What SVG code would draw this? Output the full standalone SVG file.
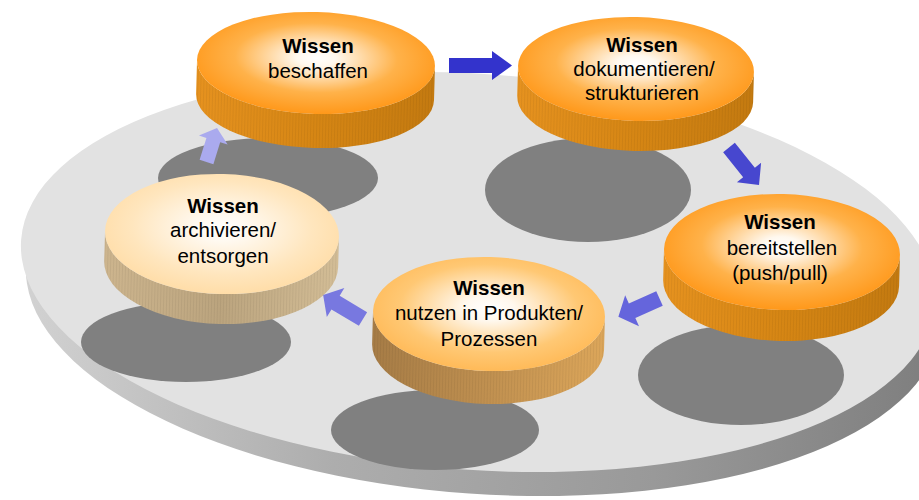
<svg xmlns="http://www.w3.org/2000/svg" width="919" height="500" viewBox="0 0 919 500">
  <defs>
    <!-- plate rim shading -->
    <linearGradient id="rimGrad" x1="0" y1="0" x2="1" y2="0">
      <stop offset="0" stop-color="#D2D2D2"/>
      <stop offset="0.35" stop-color="#ADADAD"/>
      <stop offset="0.7" stop-color="#999999"/>
      <stop offset="1" stop-color="#7E7E7E"/>
    </linearGradient>
    <!-- disc faces -->
    <radialGradient id="faceOrange" cx="0.5" cy="0.45" r="0.55">
      <stop offset="0" stop-color="#FFFFFF"/>
      <stop offset="0.15" stop-color="#FFF8EE"/>
      <stop offset="0.62" stop-color="#FFB24A"/>
      <stop offset="1" stop-color="#FF981A"/>
    </radialGradient>
    <radialGradient id="faceLight" cx="0.5" cy="0.45" r="0.55">
      <stop offset="0" stop-color="#FFFFFF"/>
      <stop offset="0.2" stop-color="#FFF8EE"/>
      <stop offset="0.7" stop-color="#FFC874"/>
      <stop offset="1" stop-color="#FFBA58"/>
    </radialGradient>
    <radialGradient id="facePale" cx="0.5" cy="0.45" r="0.55">
      <stop offset="0" stop-color="#FFFFFF"/>
      <stop offset="0.2" stop-color="#FFF9F0"/>
      <stop offset="0.7" stop-color="#FFE6BE"/>
      <stop offset="1" stop-color="#FFDDA8"/>
    </radialGradient>
    <!-- disc sides -->
    <linearGradient id="sideOrange" x1="0" y1="0" x2="1" y2="0">
      <stop offset="0" stop-color="#E6921F"/>
      <stop offset="0.5" stop-color="#D68614"/>
      <stop offset="1" stop-color="#C47A10"/>
    </linearGradient>
    <linearGradient id="sideLight" x1="0" y1="0" x2="1" y2="0">
      <stop offset="0" stop-color="#A67C46"/>
      <stop offset="0.5" stop-color="#C09050"/>
      <stop offset="1" stop-color="#DCA65A"/>
    </linearGradient>
    <linearGradient id="sidePale" x1="0" y1="0" x2="1" y2="0">
      <stop offset="0" stop-color="#CDB58E"/>
      <stop offset="0.5" stop-color="#BBA47E"/>
      <stop offset="1" stop-color="#D3BD96"/>
    </linearGradient>
    <!-- fine vertical grain on the disc sides -->
    <pattern id="grain" width="3" height="6" patternUnits="userSpaceOnUse">
      <rect x="0" y="0" width="1" height="6" fill="#000" fill-opacity="0.05"/>
    </pattern>
    <style>
      .shadow { fill: #808080; }
      .grain { fill: url(#grain); }
      .label { font-family: "Liberation Sans", Arial, sans-serif; font-size: 20.5px; fill: #000; text-anchor: middle; }
      .title { font-weight: bold; }
      .arrow { stroke: none; }
    </style>
  </defs>

  <!-- base plate: rim underneath, top surface above -->
  <g id="plate">
    <ellipse cx="483" cy="296" rx="458" ry="198" transform="rotate(4 483 296)" fill="url(#rimGrad)"/>
    <ellipse cx="478" cy="272" rx="458" ry="198" transform="rotate(4 478 272)" fill="#E2E2E2"/>
  </g>

  <!-- shadows cast on the plate -->
  <g id="shadows">
    <ellipse class="shadow" cx="268" cy="178" rx="110" ry="40"/>
    <ellipse class="shadow" cx="588" cy="190" rx="103" ry="52"/>
    <ellipse class="shadow" cx="741" cy="375" rx="103" ry="50"/>
    <ellipse class="shadow" cx="435" cy="430" rx="104" ry="40"/>
    <ellipse class="shadow" cx="186" cy="342" rx="105" ry="40"/>
  </g>

  <!-- disc: Wissen beschaffen -->
  <g id="beschaffen">
    <g transform="rotate(1.6 316 63)">
      <path d="M197,63 A119,51 0 0 0 435,63 V97 A119,51 0 0 1 197,97 Z" fill="url(#sideOrange)"/>
      <path class="grain" d="M197,63 A119,51 0 0 0 435,63 V97 A119,51 0 0 1 197,97 Z"/>
      <ellipse cx="316" cy="63" rx="119" ry="51" fill="url(#faceOrange)"/>
    </g>
    <text class="label title" x="318" y="53">Wissen</text>
    <text class="label" x="318" y="78">beschaffen</text>
  </g>

  <!-- disc: Wissen dokumentieren/strukturieren -->
  <g id="dokumentieren">
    <g transform="rotate(1.6 636 69)">
      <path d="M518,69 A118,52 0 0 0 754,69 V99 A118,52 0 0 1 518,99 Z" fill="url(#sideOrange)"/>
      <path class="grain" d="M518,69 A118,52 0 0 0 754,69 V99 A118,52 0 0 1 518,99 Z"/>
      <ellipse cx="636" cy="69" rx="118" ry="52" fill="url(#faceOrange)"/>
    </g>
    <text class="label title" x="642" y="52">Wissen</text>
    <text class="label" x="644" y="76">dokumentieren/</text>
    <text class="label" x="642" y="100">strukturieren</text>
  </g>

  <!-- disc: Wissen bereitstellen -->
  <g id="bereitstellen">
    <g transform="rotate(1.6 782 252)">
      <path d="M664,252 A118,58 0 0 0 900,252 V283 A118,58 0 0 1 664,283 Z" fill="url(#sideOrange)"/>
      <path class="grain" d="M664,252 A118,58 0 0 0 900,252 V283 A118,58 0 0 1 664,283 Z"/>
      <ellipse cx="782" cy="252" rx="118" ry="58" fill="url(#faceOrange)"/>
    </g>
    <text class="label title" x="780" y="229">Wissen</text>
    <text class="label" x="782" y="255">bereitstellen</text>
    <text class="label" x="780" y="280">(push/pull)</text>
  </g>

  <!-- disc: Wissen nutzen -->
  <g id="nutzen">
    <g transform="rotate(1.6 489 314)">
      <path d="M373,314 A116,57 0 0 0 605,314 V347 A116,57 0 0 1 373,347 Z" fill="url(#sideLight)"/>
      <path class="grain" d="M373,314 A116,57 0 0 0 605,314 V347 A116,57 0 0 1 373,347 Z"/>
      <ellipse cx="489" cy="314" rx="116" ry="57" fill="url(#faceLight)"/>
    </g>
    <text class="label title" x="489" y="295">Wissen</text>
    <text class="label" x="489" y="320">nutzen in Produkten/</text>
    <text class="label" x="489" y="346">Prozessen</text>
  </g>

  <!-- disc: Wissen archivieren/entsorgen -->
  <g id="archivieren">
    <g transform="rotate(1.6 222 234)">
      <path d="M105,234 A117,60 0 0 0 339,234 V264 A117,60 0 0 1 105,264 Z" fill="url(#sidePale)"/>
      <path class="grain" d="M105,234 A117,60 0 0 0 339,234 V264 A117,60 0 0 1 105,264 Z"/>
      <ellipse cx="222" cy="234" rx="117" ry="60" fill="url(#facePale)"/>
    </g>
    <text class="label title" x="223" y="213">Wissen</text>
    <text class="label" x="223" y="237">archivieren/</text>
    <text class="label" x="223" y="263">entsorgen</text>
  </g>

  <!-- connectors: block arrows around the cycle -->
  <g id="connectors">
    <path class="arrow" fill="#3333CC" transform="translate(449 65.5)" d="M0,-7.5H43V-14.5L63,0L43,14.5V7.5H0Z"/>
    <path class="arrow" fill="#4747CF" transform="translate(729 147.5) rotate(51.3)" d="M0,-7.5H32V-15.5L48,0L32,15.5V7.5H0Z"/>
    <path class="arrow" fill="#6565DC" transform="translate(659.5 298.5) rotate(156)" d="M0,-8H30V-17L45,0L30,17V8H0Z"/>
    <path class="arrow" fill="#7878E0" transform="translate(363 319) rotate(211)" d="M0,-8H32V-17L46.5,0L32,17V8H0Z"/>
    <path class="arrow" fill="#AAAAEE" transform="translate(206.5 162) rotate(-72.8)" d="M0,-7.2H23V-15L35.6,0L23,15V7.2H0Z"/>
  </g>
</svg>
